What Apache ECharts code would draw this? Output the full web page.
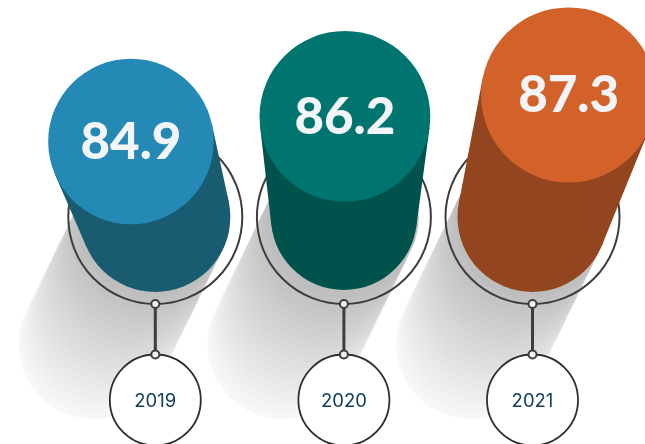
<!DOCTYPE html>
<html>
<head>
<meta charset="utf-8">
<style>html,body{margin:0;padding:0;background:#fff}#chart{width:645px;height:444px}</style>
<script src="https://cdn.jsdelivr.net/npm/echarts@6/dist/echarts.min.js"></script>
</head>
<body>
<div id="chart"></div>
<script>
const years = ['2019', '2020', '2021'];
const scores = [84.9, 86.2, 87.3];
const capColors = ['#248ab5', '#007570', '#d2622a'];
const bodyColors = ['#195b70', '#00524c', '#934520'];

const FLOOR = 81;            // score at which every column stands on the ring centre
const LEAN = [0.00171, 0.00157];  // sideways lean per pixel of height and distance from centre
const CAP_GROWTH = 0.103;    // cap radius gained per pixel of column height
const BASE_R = [75, 73, 75];
const RING_R = 87;
const TAG_R = 45.5;

// Outer tangent points between two circles, on the side given by sign.
function tangent(c1, r1, c2, r2, sign) {
  const dx = c2[0] - c1[0], dy = c2[1] - c1[1];
  const d = Math.hypot(dx, dy);
  const ux = dx / d, uy = dy / d;
  const c = (r1 - r2) / d, s = sign * Math.sqrt(1 - c * c);
  const nx = ux * c - uy * s, ny = uy * c + ux * s;
  return [[c1[0] + r1 * nx, c1[1] + r1 * ny], [c2[0] + r2 * nx, c2[1] + r2 * ny]];
}

function renderColumn(params, api) {
  const i = params.dataIndex;
  const value = api.value(1);
  const base = api.coord([i, FLOOR]);
  const top = api.coord([i, value]);
  const mid = api.coord([1, FLOOR])[0];
  const h = base[1] - top[1];
  const side = base[0] - mid;
  const cap = [base[0] + side * (side < 0 ? LEAN[0] : LEAN[1]) * h + (i === 1 ? 1 : 0), top[1]];
  const capR = BASE_R[0] + CAP_GROWTH * h;
  const baseR = BASE_R[i];
  const children = [];

  // Cast shadow: overlapping soft stadiums that build up towards the column foot.
  const steps = 20;
  for (let k = steps; k >= 1; k--) {
    const len = 141 * k / steps;
    children.push({
      type: 'line',
      shape: { x1: base[0], y1: base[1], x2: base[0] - 0.436 * len, y2: base[1] + 0.9 * len },
      style: { stroke: 'rgba(0,0,0,' + (k === steps ? 0.03 : 0.0118) + ')', lineWidth: 150, lineCap: 'round', fill: null }
    });
  }

  const lineCol = '#3d3d3d';
  // Ring around the column foot
  children.push({ type: 'circle', shape: { cx: base[0], cy: base[1], r: RING_R },
    style: { fill: null, stroke: lineCol, lineWidth: 2 } });

  // Year tag with its connector
  const nodeTop = base[1] + RING_R, tagCy = 400, nodeBottom = tagCy - TAG_R;
  children.push({ type: 'circle', shape: { cx: base[0], cy: tagCy, r: TAG_R },
    style: { fill: '#fff', stroke: '#2e2e2e', lineWidth: 1.8 } });
  children.push({ type: 'line', shape: { x1: base[0], y1: nodeTop, x2: base[0], y2: nodeBottom },
    style: { stroke: lineCol, lineWidth: 3, fill: null } });
  [nodeTop, nodeBottom].forEach(function (y) {
    children.push({ type: 'circle', shape: { cx: base[0], cy: y, r: 4 },
      style: { fill: '#f0f0ee', stroke: lineCol, lineWidth: 2 } });
  });
  children.push({ type: 'text', style: { text: years[i], x: base[0], y: tagCy + 1.5, align: 'center', verticalAlign: 'middle',
    fill: '#12405c', font: '400 18.5px Inter' } });

  // Column body and top face
  const a = tangent(cap, capR, base, baseR, 1);
  const b = tangent(cap, capR, base, baseR, -1);
  children.push({ type: 'polygon', shape: { points: [a[0], a[1], b[1], b[0]] }, style: { fill: bodyColors[i] } });
  children.push({ type: 'circle', shape: { cx: base[0], cy: base[1], r: baseR }, style: { fill: bodyColors[i] } });
  children.push({ type: 'circle', shape: { cx: cap[0], cy: cap[1], r: capR }, style: { fill: capColors[i] } });
  children.push({ type: 'text', style: { text: value.toFixed(1), x: cap[0], y: cap[1] + 1, align: 'center', verticalAlign: 'middle',
    fill: '#f2f4f7', font: '900 51px Lato' } });

  return { type: 'group', children: children };
}

const chart = echarts.init(document.getElementById('chart'), null, { renderer: 'canvas' });
chart.setOption({
  animation: false,
  backgroundColor: '#ffffff',
  grid: { left: 61, width: 565.8, top: 95, height: 122 },
  xAxis: { type: 'category', data: years, show: false },
  yAxis: { type: 'value', min: FLOOR, max: 87.3, show: false },
  series: [{
    type: 'custom',
    renderItem: renderColumn,
    clip: false,
    encode: { x: 0, y: 1 },
    data: scores.map(function (s, i) { return [i, s]; })
  }]
});
</script>
</body>
</html>
